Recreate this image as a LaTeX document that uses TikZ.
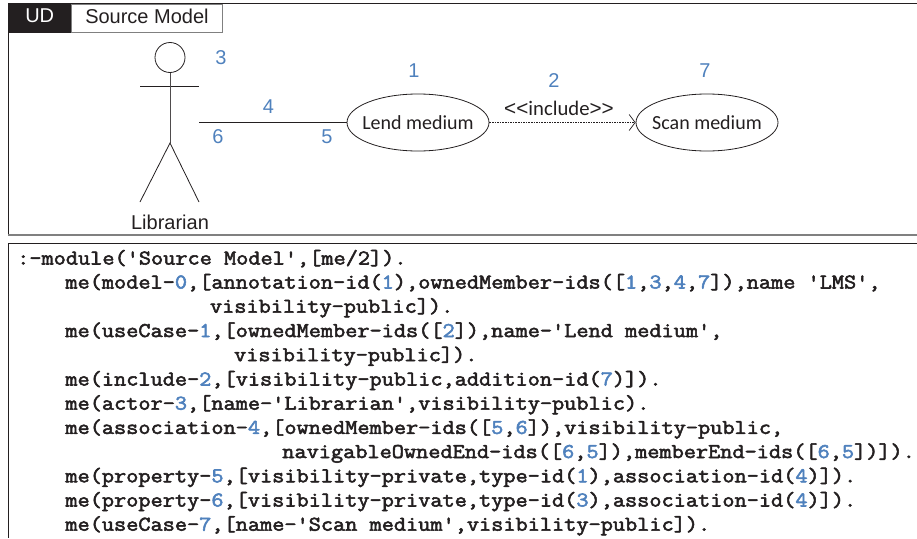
\documentclass[tikz,border=0pt]{standalone}
\usepackage{fontspec}
\usetikzlibrary{arrows.meta,shapes.geometric}
\newfontfamily\arialf{Liberation Sans}
\newfontfamily\calfont{Carlito}
\newfontfamily\codefont{Latin Modern Mono}[FakeBold=2.6,FakeStretch=1.125]
\definecolor{numblue}{HTML}{4F81BD}
\definecolor{inkc}{HTML}{231F20}
\newcommand{\n}[1]{\textcolor{numblue}{#1}}
\newcommand{\uctext}[1]{\makebox[0pt][c]{\raisebox{-7pt}[0pt][0pt]{#1}}}
\newcommand{\tabtext}[1]{\raisebox{-5pt}[0pt][0pt]{#1}}
\tikzset{
  frameline/.style={draw=inkc,line width=0.9pt},
  usecase/.style={ellipse,draw=inkc,line width=0.8pt,minimum width=142pt,minimum height=57pt,inner sep=0pt,font=\calfont\fontsize{20}{22}\selectfont,text=inkc},
  limb/.style={draw=inkc,line width=0.8pt},
  idnum/.style={font=\arialf\fontsize{20}{24}\selectfont,text=numblue,inner sep=0pt},
  label/.style={font=\arialf\fontsize{20}{22}\selectfont,text=inkc,inner sep=0pt},
  codeline/.style={anchor=base west,inner sep=0pt,font=\codefont\fontsize{21}{24}\selectfont,text=inkc},
}
\begin{document}
\begin{tikzpicture}[x=1pt,y=-1pt]
\useasboundingbox (0,0) rectangle (917,538);
% upper frame
\draw[frameline] (917,3.5) -- (8,3.5) -- (8,235);
\draw[draw=gray,line width=1.3pt] (8,235) -- (917,235);
% tab
\node[fill=inkc,draw=inkc,minimum width=63pt,minimum height=28.5pt,inner sep=0pt,anchor=north west,text=white,font=\arialf\fontsize{20}{22}\selectfont] (ud) at (8,3.5) {\tabtext{UD}};
\node[draw=gray,line width=0.9pt,minimum width=151pt,minimum height=28.5pt,inner sep=0pt,anchor=north west,label] (title) at (71,3.5) {\tabtext{Source Model}};
% actor
\node[circle,draw=inkc,line width=0.8pt,minimum size=30pt,inner sep=0pt] (head) at (170,57.5) {};
\coordinate (armL) at (140,86);
\coordinate (armR) at (199,86);
\coordinate (hip) at (170,143);
\coordinate (footL) at (140,202);
\coordinate (footR) at (199,202);
\coordinate (assocEnd) at (199,122.5);
\draw[limb] (armL) -- (armR);
\draw[limb,draw=inkc!80] (head.south) -- (hip);
\draw[limb] (footL) -- (hip) -- (footR);
\node[label] (librarian) at (170,222) {Librarian};
% use cases
\node[usecase] (lend) at (418,122.5) {\uctext{Lend medium}};
\node[usecase] (scan) at (707,122.5) {\uctext{Scan medium}};
\draw[limb] (assocEnd) -- (lend.west);
\draw[draw=inkc,line width=0.7pt,dash pattern=on 1.6pt off 1pt,-{Straight Barb[length=6pt,width=16pt,line width=0.7pt]}] (lend.east) -- (scan.west);
\node[font=\calfont\fontsize{20.7}{22}\selectfont,text=inkc,inner sep=0pt] (incl) at (559,108) {{\arialf <{}<}include{\arialf >{}>}};
% numbers
\node[idnum] (n3) at (221,58) {3};
\node[idnum] (n1) at (414,71) {1};
\node[idnum] (n4) at (268.5,107) {4};
\node[idnum] (n6) at (218,137) {6};
\node[idnum] (n5) at (327,137) {5};
\node[idnum] (n2) at (554,81) {2};
\node[idnum] (n7) at (705,71) {7};
% code frame
\draw[frameline] (917,243.5) -- (8,243.5) -- (8,538);
\def\cx#1{17+12.05*#1}
\node[codeline] (l1) at ({\cx{0}},264.5) {:-module('Source Model',[me/2]).};
\node[codeline] (l2) at ({\cx{4}},288.5) {me(model-\n{0},[annotation-id(\n{1}),ownedMember-ids([\n{1},\n{3},\n{4},\n{7}]),name 'LMS',};
\node[codeline] (l3) at ({\cx{16}},312.7) {visibility-public]).};
\node[codeline] (l4) at ({\cx{4}},337) {me(useCase-\n{1},[ownedMember-ids([\n{2}]),name-'Lend medium',};
\node[codeline] (l5) at ({\cx{18}},361.2) {visibility-public]).};
\node[codeline] (l6) at ({\cx{4}},385.5) {me(include-\n{2},[visibility-public,addition-id(\n{7})]).};
\node[codeline] (l7) at ({\cx{4}},409.7) {me(actor-\n{3},[name-'Librarian',visibility-public).};
\node[codeline] (l8) at ({\cx{4}},433.9) {me(association-\n{4},[ownedMember-ids([\n{5},\n{6}]),visibility-public,};
\node[codeline] (l9) at ({\cx{22}},458) {navigableOwnedEnd-ids([\n{6},\n{5}]),memberEnd-ids([\n{6},\n{5}])]).};
\node[codeline] (l10) at ({\cx{4}},482.3) {me(property-\n{5},[visibility-private,type-id(\n{1}),association-id(\n{4})]).};
\node[codeline] (l11) at ({\cx{4}},506.5) {me(property-\n{6},[visibility-private,type-id(\n{3}),association-id(\n{4})]).};
\node[codeline] (l12) at ({\cx{4}},530.7) {me(useCase-\n{7},[name-'Scan medium',visibility-public]).};
\end{tikzpicture}
\end{document}
